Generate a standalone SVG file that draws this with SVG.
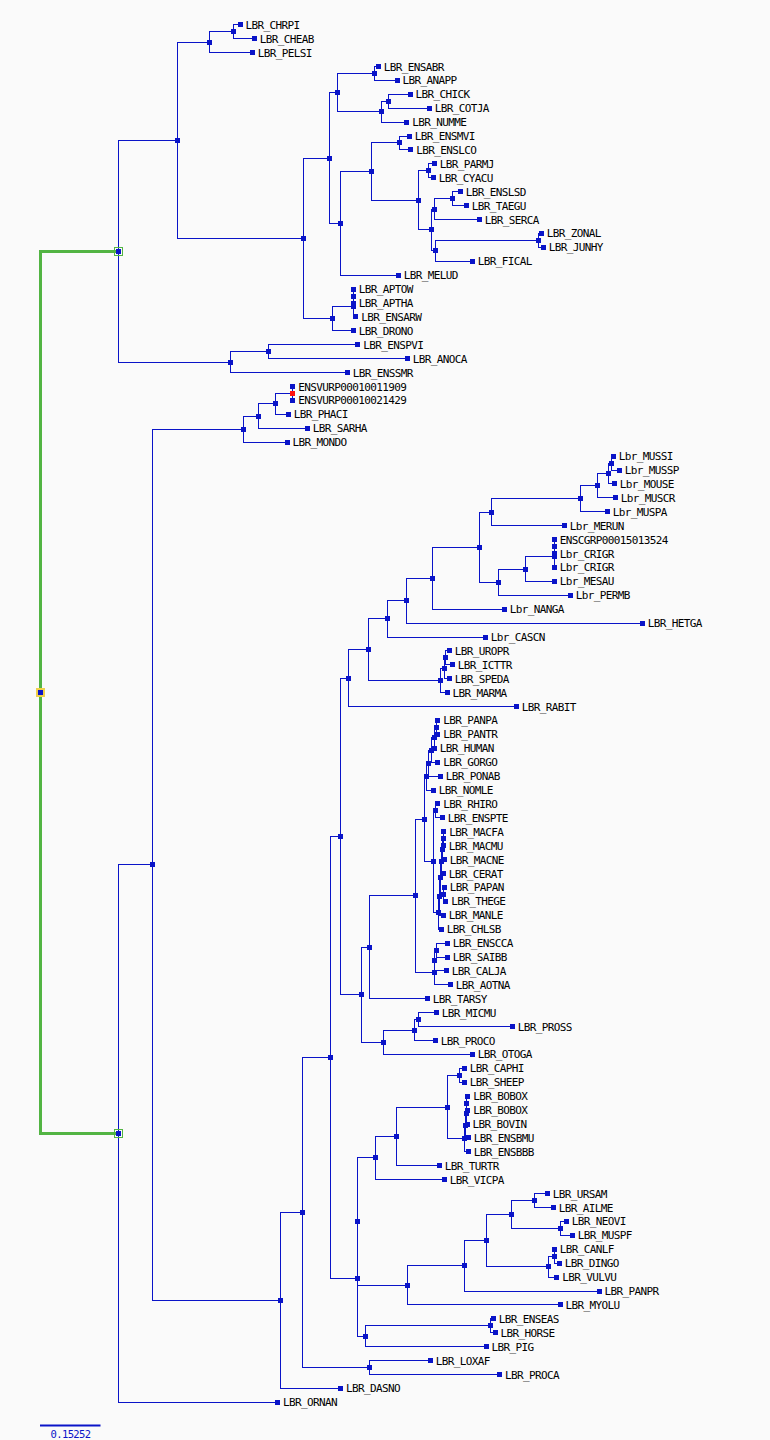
<svg xmlns="http://www.w3.org/2000/svg" xmlns:xlink="http://www.w3.org/1999/xlink" width="770" height="1440" viewBox="0 0 770 1440">
<style>
.e{fill:none;stroke:#0a14c8;stroke-width:1;shape-rendering:crispEdges}
.g{fill:none;stroke:#52b443;stroke-width:3;shape-rendering:crispEdges}
.s{fill:#0a14c8;shape-rendering:crispEdges}
.r{fill:#ff1010;shape-rendering:crispEdges}
text{font-family:"DejaVu Sans Mono","Liberation Mono",monospace;font-size:11px;letter-spacing:-0.62px;fill:#000}
</style>
<defs>
<rect id="q" class="s" x="-2.5" y="-2.5" width="5" height="5"/>
</defs>
<rect width="770" height="1440" fill="#fafafa"/>
<g id="connectors">
<path class="g" d="M118.5 251.2 H40.5 V1133.55 H118.5"/>
<path class="e" d="M240 24.7 H233.3 V38.6 H254.3"/>
<path class="e" d="M233.3 31.65 H209.3 V52.5 H252.3"/>
<path class="e" d="M378.3 66.5 H374.3 V80.4 H397"/>
<path class="e" d="M410 94.3 H388.3 V108.2 H429.3"/>
<path class="e" d="M388.3 101.25 H381.3 V122.1 H406.7"/>
<path class="e" d="M374.3 73.45 H337.3 V111.7 H381.3"/>
<path class="e" d="M409.3 136 H399.7 V149.9 H410.7"/>
<path class="e" d="M434.3 163.9 H428.3 V177.8 H433.3"/>
<path class="e" d="M460.3 191.7 H452.3 V205.6 H466.3"/>
<path class="e" d="M452.3 198.65 H434 V219.5 H479.3"/>
<path class="e" d="M541.3 233.4 H538.3 V247.3 H543.3"/>
<path class="e" d="M538.3 240.35 H435 V261.3 H472.3"/>
<path class="e" d="M434 209.1 H431.3 V250.8 H435"/>
<path class="e" d="M428.3 170.85 H418.3 V229.95 H431.3"/>
<path class="e" d="M399.7 142.95 H371.3 V200.4 H418.3"/>
<path class="e" d="M371.3 171.7 H340.3 V275.2 H398.3"/>
<path class="e" d="M337.3 92.6 H329.3 V223.45 H340.3"/>
<path class="e" d="M353.3 289.1 V303"/>
<path class="e" d="M353.3 296.05 V316.9 H355.7"/>
<path class="e" d="M353.3 306.5 H332.3 V330.8 H353.3"/>
<path class="e" d="M329.3 158 H303.3 V318.65 H332.3"/>
<path class="e" d="M209.3 42.1 H177.3 V238.3 H303.3"/>
<path class="e" d="M357.7 344.7 H268.3 V358.7 H407.3"/>
<path class="e" d="M268.3 351.7 H230 V372.6 H347.3"/>
<path class="e" d="M177.3 140.2 H118.5 V362.15 H230"/>
<path class="e" d="M292.7 386.5 V400.4"/>
<path class="e" d="M292.7 393.45 H275.3 V414.3 H288.3"/>
<path class="e" d="M275.3 403.9 H258.3 V428.2 H307.3"/>
<path class="e" d="M258.3 416.05 H243.3 V442.1 H287"/>
<path class="e" d="M613.3 456.1 H611 V470 H619.3"/>
<path class="e" d="M611 463.05 H608.3 V483.9 H614.3"/>
<path class="e" d="M608.3 473.5 H597.3 V497.8 H615.3"/>
<path class="e" d="M597.3 485.65 H580.3 V511.7 H607.3"/>
<path class="e" d="M580.3 498.7 H491.3 V525.6 H564.3"/>
<path class="e" d="M554.3 539.6 V567.4"/>
<path class="e" d="M554.3 556.95 H525.3 V581.3 H554.3"/>
<path class="e" d="M525.3 569.1 H498.3 V595.2 H570.3"/>
<path class="e" d="M491.3 512.15 H479.3 V582.15 H498.3"/>
<path class="e" d="M479.3 547.15 H432.3 V609.1 H504.3"/>
<path class="e" d="M432.3 578.1 H406.3 V623 H642.3"/>
<path class="e" d="M406.3 600.55 H387 V637 H485.3"/>
<path class="e" d="M449.3 650.9 H445.3 V664.8 H452.3"/>
<path class="e" d="M445.3 657.85 H444 V678.7 H449.3"/>
<path class="e" d="M444 668.3 H440.3 V692.6 H447"/>
<path class="e" d="M387 618.8 H368.3 V680.45 H440.3"/>
<path class="e" d="M368.3 649.6 H348.3 V706.5 H516.3"/>
<path class="e" d="M437.7 720.4 H436.3 V734.4 H437.7"/>
<path class="e" d="M436.3 727.4 H434.3 V748.3"/>
<path class="e" d="M434.3 737.85 H431.7 V762.2 H437.7"/>
<path class="e" d="M431.7 750 H428.3 V776.1 H440.3"/>
<path class="e" d="M428.3 763.05 H426.7 V790 H433.3"/>
<path class="e" d="M437.7 803.9 H435.7 V817.8 H442.3"/>
<path class="e" d="M443.7 831.8 H443.3 V845.7"/>
<path class="e" d="M443.3 838.75 H442.7 V859.6 H444.3"/>
<path class="e" d="M442.7 849.2 H441.7 V873.5 H443.3"/>
<path class="e" d="M444.3 887.4 H443.7 V901.3 H445.7"/>
<path class="e" d="M441.7 861.35 H440.7 V894.35 H443.7"/>
<path class="e" d="M440.7 877.85 H439.7 V915.3 H443.3"/>
<path class="e" d="M439.7 896.55 H438.7 V929.2 H441.3"/>
<path class="e" d="M435.7 810.85 H433.3 V912.9 H438.7"/>
<path class="e" d="M426.7 776.5 H424.3 V861.9 H433.3"/>
<path class="e" d="M447.3 943.1 H436.3 V957 H447.3"/>
<path class="e" d="M436.3 950.05 H434.3 V970.9 H446.3"/>
<path class="e" d="M434.3 960.5 V984.8 H450.3"/>
<path class="e" d="M424.3 819.2 H415.3 V972.65 H434.3"/>
<path class="e" d="M415.3 895.9 H369.3 V998.7 H427.3"/>
<path class="e" d="M436.3 1012.7 H418.3 V1026.6 H512.3"/>
<path class="e" d="M418.3 1019.65 H414.3 V1040.5 H435.3"/>
<path class="e" d="M414.3 1030.1 H383.3 V1054.4 H472.3"/>
<path class="e" d="M369.3 947.3 H361.3 V1042.25 H383.3"/>
<path class="e" d="M348.3 678.05 H340.3 V994.8 H361.3"/>
<path class="e" d="M464.3 1068.3 H459.3 V1082.2 H464.3"/>
<path class="e" d="M467.7 1096.2 H466.3 V1110.1 H467.7"/>
<path class="e" d="M466.3 1103.15 V1124 H467"/>
<path class="e" d="M466.3 1113.6 H465.3 V1137.9 H468.3"/>
<path class="e" d="M465.3 1125.75 H464.3 V1151.8 H468.3"/>
<path class="e" d="M459.3 1075.25 H447.3 V1138.8 H464.3"/>
<path class="e" d="M447.3 1107 H396.3 V1165.7 H439.3"/>
<path class="e" d="M396.3 1136.35 H375.3 V1179.6 H444.3"/>
<path class="e" d="M547.3 1193.6 H534.3 V1207.5 H553.3"/>
<path class="e" d="M566.3 1221.4 H560.3 V1235.3 H572.3"/>
<path class="e" d="M534.3 1200.55 H511.3 V1228.35 H560.3"/>
<path class="e" d="M554.3 1249.2 V1263.1 H559.3"/>
<path class="e" d="M554.3 1256.15 H548.3 V1277.1 H556.7"/>
<path class="e" d="M511.3 1214.45 H486.3 V1266.6 H548.3"/>
<path class="e" d="M486.3 1240.5 H464.3 V1291 H599"/>
<path class="e" d="M464.3 1265.75 H407.3 V1304.9 H560"/>
<path class="e" d="M375.3 1157.95 H357.3 V1285.3 H407.3"/>
<path class="e" d="M493.2 1318.8 H490.2 V1332.7 H495"/>
<path class="e" d="M490.2 1325.75 H365.2 V1346.6 H486.1"/>
<path class="e" d="M357.3 1221.6 V1336.2 H365.2"/>
<path class="e" d="M340.3 836.4 H330 V1278.9 H357.3"/>
<path class="e" d="M430.3 1360.5 H369.2 V1374.5 H499.4"/>
<path class="e" d="M330 1057.65 H302.3 V1367.5 H369.2"/>
<path class="e" d="M302.3 1212.6 H280.4 V1388.4 H340.4"/>
<path class="e" d="M243.3 429.1 H152 V1300.5 H280.4"/>
<path class="e" d="M152 864.8 H118.5 V1402.3 H277.5"/>
</g>
<g id="root"><rect x="36" y="688" width="9" height="9" fill="#f0d04a"/><use href="#q" x="40.5" y="692.4"/></g>
<g id="n-A"><rect x="114.5" y="247.5" width="8" height="8" fill="none" stroke="#52b443"/><use href="#q" x="118.5" y="251.2"/></g>
<g id="n-P"><rect x="114.5" y="1129.5" width="8" height="8" fill="none" stroke="#52b443"/><use href="#q" x="118.5" y="1133.55"/></g>
<g id="n-a1"><use href="#q" x="233.3" y="31.65"/></g>
<g id="n-a2"><use href="#q" x="209.3" y="42.1"/></g>
<g id="n-b1"><use href="#q" x="374.3" y="73.45"/></g>
<g id="n-b2"><use href="#q" x="388.3" y="101.25"/></g>
<g id="n-b3"><use href="#q" x="381.3" y="111.7"/></g>
<g id="n-b4"><use href="#q" x="337.3" y="92.6"/></g>
<g id="n-c1"><use href="#q" x="399.7" y="142.95"/></g>
<g id="n-c2"><use href="#q" x="428.3" y="170.85"/></g>
<g id="n-c3"><use href="#q" x="452.3" y="198.65"/></g>
<g id="n-c4"><use href="#q" x="434" y="209.1"/></g>
<g id="n-c5"><use href="#q" x="538.3" y="240.35"/></g>
<g id="n-c6"><use href="#q" x="435" y="250.8"/></g>
<g id="n-c7"><use href="#q" x="431.3" y="229.95"/></g>
<g id="n-c8"><use href="#q" x="418.3" y="200.4"/></g>
<g id="n-c9"><use href="#q" x="371.3" y="171.7"/></g>
<g id="n-c10"><use href="#q" x="340.3" y="223.45"/></g>
<g id="n-d1"><use href="#q" x="329.3" y="158"/></g>
<g id="n-e1"><use href="#q" x="353.3" y="296.05"/></g>
<g id="n-e2"><use href="#q" x="353.3" y="306.5"/></g>
<g id="n-e3"><use href="#q" x="332.3" y="318.65"/></g>
<g id="n-f1"><use href="#q" x="303.3" y="238.3"/></g>
<g id="n-f2"><use href="#q" x="177.3" y="140.2"/></g>
<g id="n-g1"><use href="#q" x="268.3" y="351.7"/></g>
<g id="n-g2"><use href="#q" x="230" y="362.15"/></g>
<g id="n-h1"><rect class="r" x="290.2" y="390.95" width="5" height="5"/></g>
<g id="n-h2"><use href="#q" x="275.3" y="403.9"/></g>
<g id="n-h3"><use href="#q" x="258.3" y="416.05"/></g>
<g id="n-h4"><use href="#q" x="243.3" y="429.1"/></g>
<g id="n-r1"><use href="#q" x="611" y="463.05"/></g>
<g id="n-r2"><use href="#q" x="608.3" y="473.5"/></g>
<g id="n-r3"><use href="#q" x="597.3" y="485.65"/></g>
<g id="n-r4"><use href="#q" x="580.3" y="498.7"/></g>
<g id="n-r5"><use href="#q" x="491.3" y="512.15"/></g>
<g id="n-r6"><use href="#q" x="554.3" y="546.55"/></g>
<g id="n-r7"><use href="#q" x="554.3" y="556.95"/></g>
<g id="n-r8"><use href="#q" x="525.3" y="569.1"/></g>
<g id="n-r9"><use href="#q" x="498.3" y="582.15"/></g>
<g id="n-r10"><use href="#q" x="479.3" y="547.15"/></g>
<g id="n-r11"><use href="#q" x="432.3" y="578.1"/></g>
<g id="n-r12"><use href="#q" x="406.3" y="600.55"/></g>
<g id="n-r13"><use href="#q" x="387" y="618.8"/></g>
<g id="n-s1"><use href="#q" x="445.3" y="657.85"/></g>
<g id="n-s2"><use href="#q" x="444" y="668.3"/></g>
<g id="n-s3"><use href="#q" x="440.3" y="680.45"/></g>
<g id="n-r14"><use href="#q" x="368.3" y="649.6"/></g>
<g id="n-r15"><use href="#q" x="348.3" y="678.05"/></g>
<g id="n-p1"><use href="#q" x="436.3" y="727.4"/></g>
<g id="n-p2"><use href="#q" x="434.3" y="737.85"/></g>
<g id="n-p3"><use href="#q" x="431.7" y="750"/></g>
<g id="n-p4"><use href="#q" x="428.3" y="763.05"/></g>
<g id="n-p5"><use href="#q" x="426.7" y="776.5"/></g>
<g id="n-o1"><use href="#q" x="435.7" y="810.85"/></g>
<g id="n-o2"><use href="#q" x="443.3" y="838.75"/></g>
<g id="n-o3"><use href="#q" x="442.7" y="849.2"/></g>
<g id="n-o4"><use href="#q" x="441.7" y="861.35"/></g>
<g id="n-o5"><use href="#q" x="443.7" y="894.35"/></g>
<g id="n-o6"><use href="#q" x="440.7" y="877.85"/></g>
<g id="n-o7"><use href="#q" x="439.7" y="896.55"/></g>
<g id="n-o8"><use href="#q" x="438.7" y="912.9"/></g>
<g id="n-o9"><use href="#q" x="433.3" y="861.9"/></g>
<g id="n-p6"><use href="#q" x="424.3" y="819.2"/></g>
<g id="n-n1"><use href="#q" x="436.3" y="950.05"/></g>
<g id="n-n2"><use href="#q" x="434.3" y="960.5"/></g>
<g id="n-n3"><use href="#q" x="434.3" y="972.65"/></g>
<g id="n-p7"><use href="#q" x="415.3" y="895.9"/></g>
<g id="n-p8"><use href="#q" x="369.3" y="947.3"/></g>
<g id="n-l1"><use href="#q" x="418.3" y="1019.65"/></g>
<g id="n-l2"><use href="#q" x="414.3" y="1030.1"/></g>
<g id="n-l3"><use href="#q" x="383.3" y="1042.25"/></g>
<g id="n-p9"><use href="#q" x="361.3" y="994.8"/></g>
<g id="n-W"><use href="#q" x="340.3" y="836.4"/></g>
<g id="n-k1"><use href="#q" x="459.3" y="1075.25"/></g>
<g id="n-k2"><use href="#q" x="466.3" y="1103.15"/></g>
<g id="n-k3"><use href="#q" x="466.3" y="1113.6"/></g>
<g id="n-k4"><use href="#q" x="465.3" y="1125.75"/></g>
<g id="n-k5"><use href="#q" x="464.3" y="1138.8"/></g>
<g id="n-k6"><use href="#q" x="447.3" y="1107"/></g>
<g id="n-k7"><use href="#q" x="396.3" y="1136.35"/></g>
<g id="n-k8"><use href="#q" x="375.3" y="1157.95"/></g>
<g id="n-m1"><use href="#q" x="534.3" y="1200.55"/></g>
<g id="n-m2"><use href="#q" x="560.3" y="1228.35"/></g>
<g id="n-m3"><use href="#q" x="511.3" y="1214.45"/></g>
<g id="n-m4"><use href="#q" x="554.3" y="1256.15"/></g>
<g id="n-m5"><use href="#q" x="548.3" y="1266.6"/></g>
<g id="n-m6"><use href="#q" x="486.3" y="1240.5"/></g>
<g id="n-m7"><use href="#q" x="464.3" y="1265.75"/></g>
<g id="n-Z"><use href="#q" x="407.3" y="1285.3"/></g>
<g id="n-Y"><use href="#q" x="357.3" y="1221.6"/></g>
<g id="n-q1"><use href="#q" x="490.2" y="1325.75"/></g>
<g id="n-q2"><use href="#q" x="365.2" y="1336.2"/></g>
<g id="n-X"><use href="#q" x="357.3" y="1278.9"/></g>
<g id="n-V"><use href="#q" x="330" y="1057.65"/></g>
<g id="n-af"><use href="#q" x="369.2" y="1367.5"/></g>
<g id="n-U"><use href="#q" x="302.3" y="1212.6"/></g>
<g id="n-R"><use href="#q" x="280.4" y="1300.5"/></g>
<g id="n-Q"><use href="#q" x="152" y="864.8"/></g>
<g id="leaf-CHRPI"><use href="#q" x="240" y="24.7"/><text x="245.5" y="28.7">LBR_CHRPI</text></g>
<g id="leaf-CHEAB"><use href="#q" x="254.3" y="38.6"/><text x="259.8" y="42.6">LBR_CHEAB</text></g>
<g id="leaf-PELSI"><use href="#q" x="252.3" y="52.5"/><text x="257.8" y="56.5">LBR_PELSI</text></g>
<g id="leaf-ENSABR"><use href="#q" x="378.3" y="66.5"/><text x="383.8" y="70.5">LBR_ENSABR</text></g>
<g id="leaf-ANAPP"><use href="#q" x="397" y="80.4"/><text x="402.5" y="84.4">LBR_ANAPP</text></g>
<g id="leaf-CHICK"><use href="#q" x="410" y="94.3"/><text x="415.5" y="98.3">LBR_CHICK</text></g>
<g id="leaf-COTJA"><use href="#q" x="429.3" y="108.2"/><text x="434.8" y="112.2">LBR_COTJA</text></g>
<g id="leaf-NUMME"><use href="#q" x="406.7" y="122.1"/><text x="412.2" y="126.1">LBR_NUMME</text></g>
<g id="leaf-ENSMVI"><use href="#q" x="409.3" y="136"/><text x="414.8" y="140">LBR_ENSMVI</text></g>
<g id="leaf-ENSLCO"><use href="#q" x="410.7" y="149.9"/><text x="416.2" y="153.9">LBR_ENSLCO</text></g>
<g id="leaf-PARMJ"><use href="#q" x="434.3" y="163.9"/><text x="439.8" y="167.9">LBR_PARMJ</text></g>
<g id="leaf-CYACU"><use href="#q" x="433.3" y="177.8"/><text x="438.8" y="181.8">LBR_CYACU</text></g>
<g id="leaf-ENSLSD"><use href="#q" x="460.3" y="191.7"/><text x="465.8" y="195.7">LBR_ENSLSD</text></g>
<g id="leaf-TAEGU"><use href="#q" x="466.3" y="205.6"/><text x="471.8" y="209.6">LBR_TAEGU</text></g>
<g id="leaf-SERCA"><use href="#q" x="479.3" y="219.5"/><text x="484.8" y="223.5">LBR_SERCA</text></g>
<g id="leaf-ZONAL"><use href="#q" x="541.3" y="233.4"/><text x="546.8" y="237.4">LBR_ZONAL</text></g>
<g id="leaf-JUNHY"><use href="#q" x="543.3" y="247.3"/><text x="548.8" y="251.3">LBR_JUNHY</text></g>
<g id="leaf-FICAL"><use href="#q" x="472.3" y="261.3"/><text x="477.8" y="265.3">LBR_FICAL</text></g>
<g id="leaf-MELUD"><use href="#q" x="398.3" y="275.2"/><text x="403.8" y="279.2">LBR_MELUD</text></g>
<g id="leaf-APTOW"><use href="#q" x="353.3" y="289.1"/><text x="358.8" y="293.1">LBR_APTOW</text></g>
<g id="leaf-APTHA"><use href="#q" x="353.3" y="303"/><text x="358.8" y="307">LBR_APTHA</text></g>
<g id="leaf-ENSARW"><use href="#q" x="355.7" y="316.9"/><text x="361.2" y="320.9">LBR_ENSARW</text></g>
<g id="leaf-DRONO"><use href="#q" x="353.3" y="330.8"/><text x="358.8" y="334.8">LBR_DRONO</text></g>
<g id="leaf-ENSPVI"><use href="#q" x="357.7" y="344.7"/><text x="363.2" y="348.7">LBR_ENSPVI</text></g>
<g id="leaf-ANOCA"><use href="#q" x="407.3" y="358.7"/><text x="412.8" y="362.7">LBR_ANOCA</text></g>
<g id="leaf-ENSSMR"><use href="#q" x="347.3" y="372.6"/><text x="352.8" y="376.6">LBR_ENSSMR</text></g>
<g id="leaf-ENSVURP1"><use href="#q" x="292.7" y="386.5"/><text x="298.2" y="390.5">ENSVURP00010011909</text></g>
<g id="leaf-ENSVURP2"><use href="#q" x="292.7" y="400.4"/><text x="298.2" y="404.4">ENSVURP00010021429</text></g>
<g id="leaf-PHACI"><use href="#q" x="288.3" y="414.3"/><text x="293.8" y="418.3">LBR_PHACI</text></g>
<g id="leaf-SARHA"><use href="#q" x="307.3" y="428.2"/><text x="312.8" y="432.2">LBR_SARHA</text></g>
<g id="leaf-MONDO"><use href="#q" x="287" y="442.1"/><text x="292.5" y="446.1">LBR_MONDO</text></g>
<g id="leaf-MUSSI"><use href="#q" x="613.3" y="456.1"/><text x="618.8" y="460.1">Lbr_MUSSI</text></g>
<g id="leaf-MUSSP"><use href="#q" x="619.3" y="470"/><text x="624.8" y="474">Lbr_MUSSP</text></g>
<g id="leaf-MOUSE"><use href="#q" x="614.3" y="483.9"/><text x="619.8" y="487.9">Lbr_MOUSE</text></g>
<g id="leaf-MUSCR"><use href="#q" x="615.3" y="497.8"/><text x="620.8" y="501.8">Lbr_MUSCR</text></g>
<g id="leaf-MUSPA"><use href="#q" x="607.3" y="511.7"/><text x="612.8" y="515.7">Lbr_MUSPA</text></g>
<g id="leaf-MERUN"><use href="#q" x="564.3" y="525.6"/><text x="569.8" y="529.6">Lbr_MERUN</text></g>
<g id="leaf-ENSCGRP"><use href="#q" x="554.3" y="539.6"/><text x="559.8" y="543.6">ENSCGRP00015013524</text></g>
<g id="leaf-CRIGR1"><use href="#q" x="554.3" y="553.5"/><text x="559.8" y="557.5">Lbr_CRIGR</text></g>
<g id="leaf-CRIGR2"><use href="#q" x="554.3" y="567.4"/><text x="559.8" y="571.4">Lbr_CRIGR</text></g>
<g id="leaf-MESAU"><use href="#q" x="554.3" y="581.3"/><text x="559.8" y="585.3">Lbr_MESAU</text></g>
<g id="leaf-PERMB"><use href="#q" x="570.3" y="595.2"/><text x="575.8" y="599.2">Lbr_PERMB</text></g>
<g id="leaf-NANGA"><use href="#q" x="504.3" y="609.1"/><text x="509.8" y="613.1">Lbr_NANGA</text></g>
<g id="leaf-HETGA"><use href="#q" x="642.3" y="623"/><text x="647.8" y="627">LBR_HETGA</text></g>
<g id="leaf-CASCN"><use href="#q" x="485.3" y="637"/><text x="490.8" y="641">Lbr_CASCN</text></g>
<g id="leaf-UROPR"><use href="#q" x="449.3" y="650.9"/><text x="454.8" y="654.9">LBR_UROPR</text></g>
<g id="leaf-ICTTR"><use href="#q" x="452.3" y="664.8"/><text x="457.8" y="668.8">LBR_ICTTR</text></g>
<g id="leaf-SPEDA"><use href="#q" x="449.3" y="678.7"/><text x="454.8" y="682.7">LBR_SPEDA</text></g>
<g id="leaf-MARMA"><use href="#q" x="447" y="692.6"/><text x="452.5" y="696.6">LBR_MARMA</text></g>
<g id="leaf-RABIT"><use href="#q" x="516.3" y="706.5"/><text x="521.8" y="710.5">LBR_RABIT</text></g>
<g id="leaf-PANPA"><use href="#q" x="437.7" y="720.4"/><text x="443.2" y="724.4">LBR_PANPA</text></g>
<g id="leaf-PANTR"><use href="#q" x="437.7" y="734.4"/><text x="443.2" y="738.4">LBR_PANTR</text></g>
<g id="leaf-HUMAN"><use href="#q" x="434.3" y="748.3"/><text x="439.8" y="752.3">LBR_HUMAN</text></g>
<g id="leaf-GORGO"><use href="#q" x="437.7" y="762.2"/><text x="443.2" y="766.2">LBR_GORGO</text></g>
<g id="leaf-PONAB"><use href="#q" x="440.3" y="776.1"/><text x="445.8" y="780.1">LBR_PONAB</text></g>
<g id="leaf-NOMLE"><use href="#q" x="433.3" y="790"/><text x="438.8" y="794">LBR_NOMLE</text></g>
<g id="leaf-RHIRO"><use href="#q" x="437.7" y="803.9"/><text x="443.2" y="807.9">LBR_RHIRO</text></g>
<g id="leaf-ENSPTE"><use href="#q" x="442.3" y="817.8"/><text x="447.8" y="821.8">LBR_ENSPTE</text></g>
<g id="leaf-MACFA"><use href="#q" x="443.7" y="831.8"/><text x="449.2" y="835.8">LBR_MACFA</text></g>
<g id="leaf-MACMU"><use href="#q" x="443.3" y="845.7"/><text x="448.8" y="849.7">LBR_MACMU</text></g>
<g id="leaf-MACNE"><use href="#q" x="444.3" y="859.6"/><text x="449.8" y="863.6">LBR_MACNE</text></g>
<g id="leaf-CERAT"><use href="#q" x="443.3" y="873.5"/><text x="448.8" y="877.5">LBR_CERAT</text></g>
<g id="leaf-PAPAN"><use href="#q" x="444.3" y="887.4"/><text x="449.8" y="891.4">LBR_PAPAN</text></g>
<g id="leaf-THEGE"><use href="#q" x="445.7" y="901.3"/><text x="451.2" y="905.3">LBR_THEGE</text></g>
<g id="leaf-MANLE"><use href="#q" x="443.3" y="915.3"/><text x="448.8" y="919.3">LBR_MANLE</text></g>
<g id="leaf-CHLSB"><use href="#q" x="441.3" y="929.2"/><text x="446.8" y="933.2">LBR_CHLSB</text></g>
<g id="leaf-ENSCCA"><use href="#q" x="447.3" y="943.1"/><text x="452.8" y="947.1">LBR_ENSCCA</text></g>
<g id="leaf-SAIBB"><use href="#q" x="447.3" y="957"/><text x="452.8" y="961">LBR_SAIBB</text></g>
<g id="leaf-CALJA"><use href="#q" x="446.3" y="970.9"/><text x="451.8" y="974.9">LBR_CALJA</text></g>
<g id="leaf-AOTNA"><use href="#q" x="450.3" y="984.8"/><text x="455.8" y="988.8">LBR_AOTNA</text></g>
<g id="leaf-TARSY"><use href="#q" x="427.3" y="998.7"/><text x="432.8" y="1002.7">LBR_TARSY</text></g>
<g id="leaf-MICMU"><use href="#q" x="436.3" y="1012.7"/><text x="441.8" y="1016.7">LBR_MICMU</text></g>
<g id="leaf-PROSS"><use href="#q" x="512.3" y="1026.6"/><text x="517.8" y="1030.6">LBR_PROSS</text></g>
<g id="leaf-PROCO"><use href="#q" x="435.3" y="1040.5"/><text x="440.8" y="1044.5">LBR_PROCO</text></g>
<g id="leaf-OTOGA"><use href="#q" x="472.3" y="1054.4"/><text x="477.8" y="1058.4">LBR_OTOGA</text></g>
<g id="leaf-CAPHI"><use href="#q" x="464.3" y="1068.3"/><text x="469.8" y="1072.3">LBR_CAPHI</text></g>
<g id="leaf-SHEEP"><use href="#q" x="464.3" y="1082.2"/><text x="469.8" y="1086.2">LBR_SHEEP</text></g>
<g id="leaf-BOBOX1"><use href="#q" x="467.7" y="1096.2"/><text x="473.2" y="1100.2">LBR_BOBOX</text></g>
<g id="leaf-BOBOX2"><use href="#q" x="467.7" y="1110.1"/><text x="473.2" y="1114.1">LBR_BOBOX</text></g>
<g id="leaf-BOVIN"><use href="#q" x="467" y="1124"/><text x="472.5" y="1128">LBR_BOVIN</text></g>
<g id="leaf-ENSBMU"><use href="#q" x="468.3" y="1137.9"/><text x="473.8" y="1141.9">LBR_ENSBMU</text></g>
<g id="leaf-ENSBBB"><use href="#q" x="468.3" y="1151.8"/><text x="473.8" y="1155.8">LBR_ENSBBB</text></g>
<g id="leaf-TURTR"><use href="#q" x="439.3" y="1165.7"/><text x="444.8" y="1169.7">LBR_TURTR</text></g>
<g id="leaf-VICPA"><use href="#q" x="444.3" y="1179.6"/><text x="449.8" y="1183.6">LBR_VICPA</text></g>
<g id="leaf-URSAM"><use href="#q" x="547.3" y="1193.6"/><text x="552.8" y="1197.6">LBR_URSAM</text></g>
<g id="leaf-AILME"><use href="#q" x="553.3" y="1207.5"/><text x="558.8" y="1211.5">LBR_AILME</text></g>
<g id="leaf-NEOVI"><use href="#q" x="566.3" y="1221.4"/><text x="571.8" y="1225.4">LBR_NEOVI</text></g>
<g id="leaf-MUSPF"><use href="#q" x="572.3" y="1235.3"/><text x="577.8" y="1239.3">LBR_MUSPF</text></g>
<g id="leaf-CANLF"><use href="#q" x="554.3" y="1249.2"/><text x="559.8" y="1253.2">LBR_CANLF</text></g>
<g id="leaf-DINGO"><use href="#q" x="559.3" y="1263.1"/><text x="564.8" y="1267.1">LBR_DINGO</text></g>
<g id="leaf-VULVU"><use href="#q" x="556.7" y="1277.1"/><text x="562.2" y="1281.1">LBR_VULVU</text></g>
<g id="leaf-PANPR"><use href="#q" x="599" y="1291"/><text x="604.5" y="1295">LBR_PANPR</text></g>
<g id="leaf-MYOLU"><use href="#q" x="560" y="1304.9"/><text x="565.5" y="1308.9">LBR_MYOLU</text></g>
<g id="leaf-ENSEAS"><use href="#q" x="493.2" y="1318.8"/><text x="498.7" y="1322.8">LBR_ENSEAS</text></g>
<g id="leaf-HORSE"><use href="#q" x="495" y="1332.7"/><text x="500.5" y="1336.7">LBR_HORSE</text></g>
<g id="leaf-PIG"><use href="#q" x="486.1" y="1346.6"/><text x="491.6" y="1350.6">LBR_PIG</text></g>
<g id="leaf-LOXAF"><use href="#q" x="430.3" y="1360.5"/><text x="435.8" y="1364.5">LBR_LOXAF</text></g>
<g id="leaf-PROCA"><use href="#q" x="499.4" y="1374.5"/><text x="504.9" y="1378.5">LBR_PROCA</text></g>
<g id="leaf-DASNO"><use href="#q" x="340.4" y="1388.4"/><text x="345.9" y="1392.4">LBR_DASNO</text></g>
<g id="leaf-ORNAN"><use href="#q" x="277.5" y="1402.3"/><text x="283" y="1406.3">LBR_ORNAN</text></g>
<g id="scale"><line x1="40" y1="1425.5" x2="100.5" y2="1425.5" stroke="#0a14c8" stroke-width="2"/><text x="70.5" y="1437.5" text-anchor="middle" style="fill:#0a14c8;font-size:10.5px">0.15252</text></g>
</svg>
